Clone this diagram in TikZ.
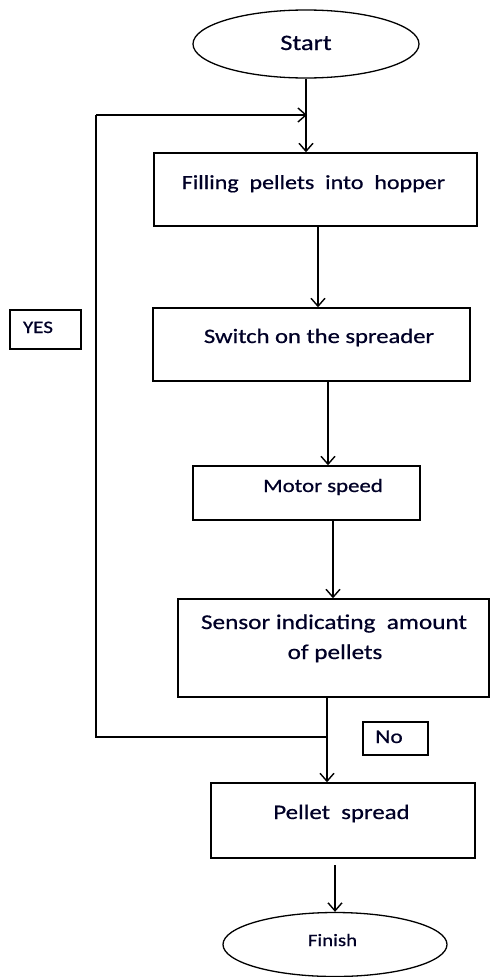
\documentclass[tikz,border=0pt]{standalone}
\usepackage{fontspec}
\setmainfont{Carlito}[FakeStretch=1.2,FakeBold=0.7]
\usetikzlibrary{arrows.meta,shapes.geometric}
\tikzset{
  box/.style={draw, line width=1.4pt, rectangle, inner sep=0pt},
  oval/.style={draw, line width=1.3pt, ellipse, inner sep=0pt},
  txt/.style={anchor=base, inner sep=0pt, text=black!85!blue},
  conn/.style={line width=1.4pt},
  arr/.style={conn, -{Straight Barb[length=8pt,width=14pt,line width=1.4pt]}},
}
\begin{document}
\begin{tikzpicture}[x=1pt,y=-1pt]
\useasboundingbox (0,0) rectangle (490,977);
% shapes
\node[oval, minimum width=226, minimum height=68] (start) at (306,44) {};
\node[box, minimum width=323, minimum height=73] (b1) at (315.5,189.5) {};
\node[box, minimum width=317, minimum height=73] (b2) at (311.5,344.5) {};
\node[box, minimum width=227, minimum height=54] (b3) at (306.5,493) {};
\node[box, minimum width=311, minimum height=98] (b4) at (333.5,648) {};
\node[box, minimum width=264, minimum height=75] (b5) at (343,820.5) {};
\node[oval, minimum width=224, minimum height=64] (finish) at (335,944.5) {};
\node[box, minimum width=71, minimum height=39] (yes) at (45.5,329.5) {};
\node[box, minimum width=65, minimum height=33] (no) at (395.5,738.5) {};
% texts
\node[txt, font=\fontsize{22}{26}\selectfont] (tstart) at (306,50) {Start};
\node[txt, font=\fontsize{20}{24}\selectfont] (t1) at (313.5,189) {Filling\ \ pellets\ \ into\ \ hopper};
\node[txt, font=\fontsize{20.5}{24}\selectfont] (t2) at (319,343) {Switch on the spreader};
\node[txt, font=\fontsize{19}{23}\selectfont] (t3) at (323,492) {Motor speed};
\node[txt, font=\fontsize{21}{25}\selectfont] (t4a) at (334,629) {Sensor indicating\ \ amount};
\node[txt, font=\fontsize{21}{25}\selectfont] (t4b) at (335,659) {of pellets};
\node[txt, font=\fontsize{20.7}{25}\selectfont] (t5) at (341.5,819) {Pellet\ \ spread};
\node[txt, font=\fontsize{17.4}{21}\selectfont] (tfin) at (332.5,946) {Finish};
\node[txt, font=\fontsize{17.5}{21}\selectfont] (tyes) at (38,333) {YES};
\node[txt, font=\fontsize{19.5}{23}\selectfont] (tno) at (389,743) {No};
% coordinates
\coordinate (top) at (307,115);
\coordinate (j) at (327,737);
\coordinate (c1) at (96,737);
\coordinate (c2) at (96,115);
\coordinate (s5) at (335,865);
% connectors
\draw[arr] (start.south) -- (start.south |- b1.north);
\draw[arr] ([xshift=2.5pt]b1.south) -- ([xshift=2.5pt]b1.south |- b2.north);
\draw[arr] ([xshift=16.5pt]b2.south) -- ([xshift=16.5pt]b2.south |- b3.north);
\draw[arr] ([xshift=26.5pt]b3.south) -- ([xshift=26.5pt]b3.south |- b4.north);
\draw[arr] ([xshift=-6.5pt]b4.south) -- ([xshift=-6.5pt]b4.south |- b5.north);
\draw[conn] (j) -- (c1) -- (c2);
\draw[arr] (c2) -- (top);
\draw[arr] (s5) -- (s5 |- finish.north);
\end{tikzpicture}
\end{document}
